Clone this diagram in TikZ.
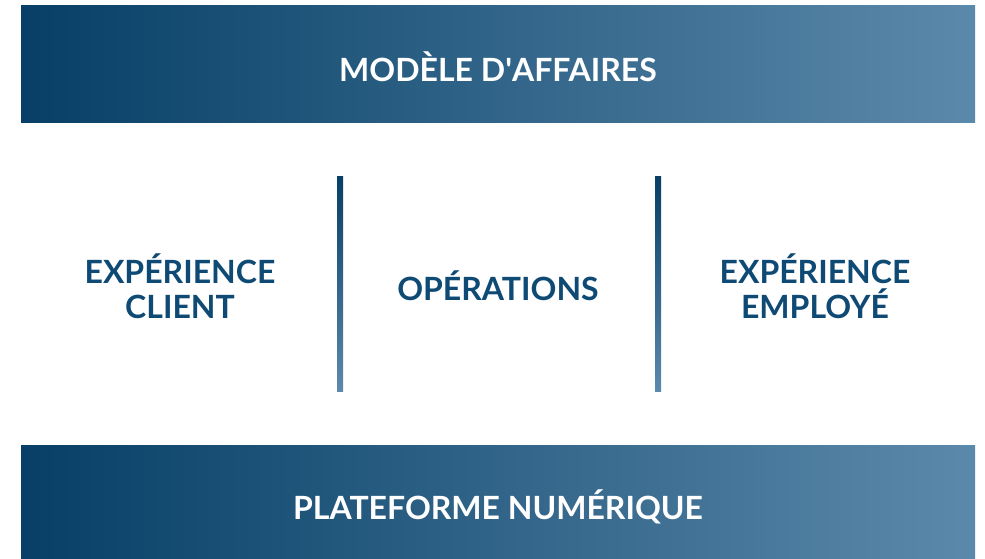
\documentclass[tikz,border=0pt]{standalone}
\usepackage{fontspec}
\setmainfont{Lato}
\definecolor{bleufonce}{HTML}{073F66}
\definecolor{bleuclair}{HTML}{5B89AB}
\definecolor{bleutexte}{HTML}{0E4A74}
\tikzset{
  bandeau/.style={minimum width=954pt,minimum height=117pt,inner sep=0pt,
    left color=bleufonce,right color=bleuclair},
  titre/.style={text=white,font=\fontsize{32}{35}\selectfont\bfseries},
  pilier/.style={text=bleutexte,align=center,
    font=\fontsize{32}{35}\selectfont\bfseries}
}
\begin{document}
\begin{tikzpicture}[x=1pt,y=-1pt]
        \useasboundingbox (0,0) rectangle (985,559);
        \node[bandeau] (modele) at (498,64.5) {};
        \node[bandeau,minimum height=114pt] (plateforme) at (498,502) {};
        \node[titre] (modeletxt) at (498,66.5) {MODÈLE D\textquotesingle AFFAIRES};
        \node[titre] (plateformetxt) at (498,507) {PLATEFORME NUMÉRIQUE};
        \node[pilier] (client) at (180,286) {EXPÉRIENCE\\CLIENT};
        \node[pilier] (operations) at (498,286) {OPÉRATIONS};
        \node[pilier] (employe) at (815,286) {EXPÉRIENCE\\EMPLOYÉ};
        \shade[top color=bleufonce,bottom color=bleuclair] (337,176) rectangle (343,391);
        \shade[top color=bleufonce,bottom color=bleuclair] (655,176) rectangle (661,391);
      \end{tikzpicture}
\end{document}
